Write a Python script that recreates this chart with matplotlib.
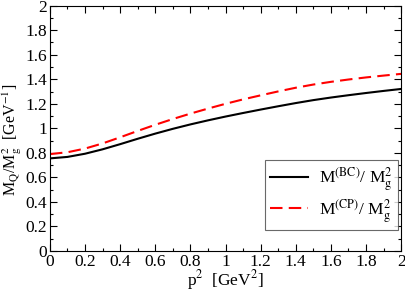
import matplotlib
matplotlib.use("Agg")
import matplotlib.pyplot as plt
from matplotlib.ticker import MultipleLocator, FuncFormatter

p2 = [0.0, 0.1, 0.2, 0.3, 0.4, 0.5, 0.6, 0.7, 0.8, 0.9, 1.0,
      1.1, 1.2, 1.3, 1.4, 1.5, 1.6, 1.7, 1.8, 1.9, 2.0]
m_bc = [0.755, 0.767, 0.793, 0.829, 0.871, 0.915, 0.957, 0.996, 1.032, 1.065, 1.096,
        1.125, 1.153, 1.18, 1.206, 1.23, 1.251, 1.27, 1.288, 1.305, 1.321]
m_cp = [0.79, 0.805, 0.835, 0.877, 0.927, 0.979, 1.029, 1.076, 1.12, 1.161, 1.20,
        1.236, 1.269, 1.301, 1.331, 1.357, 1.379, 1.398, 1.415, 1.43, 1.444]

plt.rcParams['font.family'] = ['Liberation Serif', 'DejaVu Serif']
plt.rcParams['mathtext.fontset'] = 'stix'

fig = plt.figure(figsize=(4.06, 2.91), dpi=100)
ax = fig.add_axes([0.123, 0.1375, 0.865, 0.843])

ax.plot(p2, m_bc, color='black', lw=1.5, label=r'M$^{\rm (BC)}$/ M$^{2}_{\rm g}$')
ax.plot(p2, m_cp, color='#ff0000', lw=1.5, dashes=(6, 3), label=r'M$^{\rm (CP)}$/ M$^{2}_{\rm g}$')

ax.set_xlim(0, 2)
ax.set_ylim(0, 2)
ax.xaxis.set_major_locator(MultipleLocator(0.2))
ax.xaxis.set_minor_locator(MultipleLocator(0.1))
ax.yaxis.set_major_locator(MultipleLocator(0.2))
ax.yaxis.set_minor_locator(MultipleLocator(0.1))
fmt = FuncFormatter(lambda v, p: '%g' % round(v, 1))
ax.xaxis.set_major_formatter(fmt)
ax.yaxis.set_major_formatter(fmt)
ax.tick_params(which='both', direction='in', top=True, right=True, labelsize=12.5, pad=2)
ax.tick_params(which='major', length=5, width=0.8)
ax.tick_params(which='minor', length=2.5, width=0.8)

ax.set_xlabel(r'p$^2$  [GeV$^2$]', fontsize=12.5, labelpad=-1)
fig.text(12 / 406, 1 - 140 / 291, r'M$_{\rm Q}$/M$^2_{\rm g}$  [GeV$^{-1}$]', fontsize=11.5,
         rotation=90, ha='center', va='center')

leg = ax.legend(loc='lower right', bbox_to_anchor=(0.99, 0.086), borderaxespad=0,
                fontsize=12.5, frameon=True, fancybox=False, edgecolor='#444444',
                handlelength=2.2, borderpad=0.3, labelspacing=0.2, handletextpad=0.6)
leg.get_frame().set_linewidth(0.8)

fig.savefig('out.png', dpi=100)
